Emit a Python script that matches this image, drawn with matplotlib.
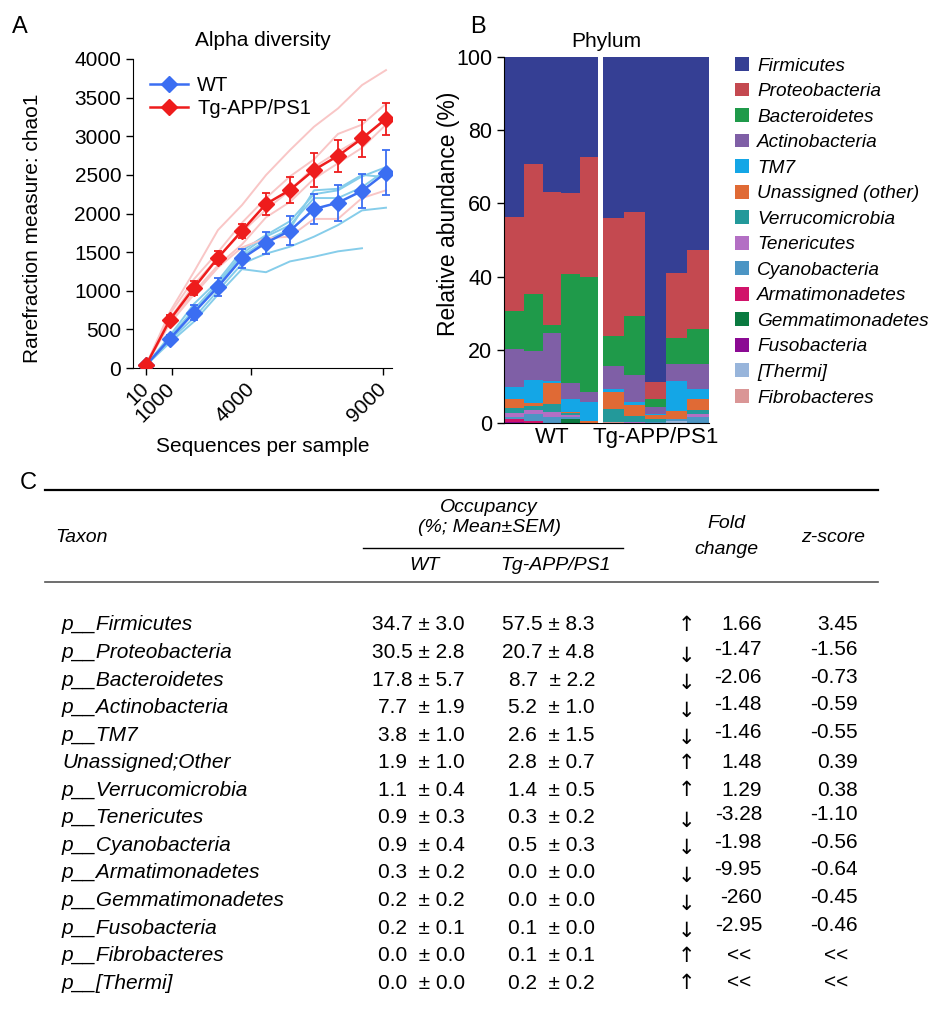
import numpy as np
import matplotlib
matplotlib.use('Agg')
import matplotlib.pyplot as plt
from matplotlib.lines import Line2D

plt.rcParams['font.family'] = ['Liberation Sans', 'DejaVu Sans']

# ---------------- Panel A data ----------------
depths = [10, 919, 1828, 2737, 3646, 4555, 5464, 6373, 7282, 8191, 9100]
depth_ticks = [10, 1000, 4000, 9000]
wt_mean = [35, 380, 718, 1051, 1418, 1622, 1777, 2058, 2140, 2292, 2530]
wt_err = [0, 45, 95, 120, 125, 140, 185, 195, 235, 225, 295]
tg_mean = [35, 627, 1038, 1427, 1777, 2123, 2305, 2564, 2746, 2971, 3226]
tg_err = [0, 55, 90, 85, 90, 145, 165, 215, 205, 240, 205]
wt_samples = [
    [35, 330, 600, 950, 1280, 1240, 1380, 1440, 1510, 1550, np.nan],
    [35, 360, 650, 1000, 1350, 1480, 1570, 1700, 1850, 2040, 2075],
    [35, 390, 740, 1080, 1450, 1650, 1800, 2300, 2320, 2500, 2470],
    [35, 400, 760, 1100, 1480, 1700, 1850, 2200, 2200, 2340, 2560],
    [35, 420, 830, 1130, 1520, 1720, 1900, 2250, 2300, 2480, 2600],
]
tg_samples = [
    [35, 729, 1246, 1786, 2109, 2497, 2821, 3123, 3360, 3662, 3856],
    [35, 700, 1150, 1500, 1880, 2200, 2480, 2700, 3030, 3150, 3420],
    [35, 640, 1080, 1430, 1760, 2050, 2300, 2600, 2800, 2980, 3230],
    [35, 600, 980, 1330, 1600, 1950, 2150, 2450, 2650, 2850, 3150],
    [35, 580, 950, 1300, 1560, 1680, 1700, 1930, 1930, 2200, 2300],
]

# ---------------- Panel B data ----------------
groups = ['WT', 'Tg-APP/PS1']
legend_phyla = ['Firmicutes', 'Proteobacteria', 'Bacteroidetes', 'Actinobacteria', 'TM7',
                'Unassigned (other)', 'Verrucomicrobia', 'Tenericutes', 'Cyanobacteria',
                'Armatimonadetes', 'Gemmatimonadetes', 'Fusobacteria', '[Thermi]', 'Fibrobacteres']
phylum_colors = ['#353F94', '#C44950', '#1F9A4A', '#7F5FA6', '#14A6E6', '#E06A35', '#23999A',
                 '#B36FC4', '#4C95C4', '#D1136A', '#0A7A40', '#8B0A93', '#98B5DB', '#DA9696']
# values per sample: WT1..WT5, Tg1..Tg5
firmicutes = [43.6, 29.3, 36.8, 37.1, 27.3, 44.0, 42.4, 88.8, 59.0, 52.8]
proteobacteria = [25.7, 35.5, 36.5, 22.2, 32.7, 32.2, 28.3, 4.7, 17.6, 21.4]
bacteroidetes = [10.5, 15.6, 2.2, 29.8, 31.4, 8.1, 16.1, 2.1, 7.3, 9.7]
actinobacteria = [10.4, 7.8, 13.0, 4.3, 2.9, 6.3, 7.5, 1.9, 4.5, 6.7]
tm7 = [3.3, 6.3, 0.6, 3.5, 5.2, 0.8, 0.7, 0.3, 8.2, 2.9]
unassigned = [2.4, 0.7, 5.6, 0.4, 0.4, 4.8, 3.0, 1.1, 2.2, 2.9]
verrucomicrobia = [1.4, 1.3, 2.1, 0.4, 0.0, 3.5, 1.6, 0.8, 0.0, 1.1]
tenericutes = [1.0, 1.0, 1.6, 0.7, 0.0, 0.0, 0.4, 0.0, 0.0, 0.9]
cyanobacteria = [0.6, 1.8, 1.6, 0.4, 0.0, 0.0, 0.0, 0.3, 0.5, 1.4]
armatimonadetes = [0.8, 0.7, 0.0, 0.0, 0.0, 0.0, 0.0, 0.0, 0.0, 0.0]
gemmatimonadetes = [0.0, 0.0, 0.0, 1.2, 0.0, 0.0, 0.0, 0.0, 0.0, 0.0]
fusobacteria = [0.3, 0.0, 0.0, 0.0, 0.1, 0.0, 0.0, 0.0, 0.0, 0.2]
thermi = [0.0, 0.0, 0.0, 0.0, 0.0, 0.0, 0.0, 0.0, 0.7, 0.0]
fibrobacteres = [0.0, 0.0, 0.0, 0.0, 0.0, 0.3, 0.0, 0.0, 0.0, 0.0]
phylum_values = [firmicutes, proteobacteria, bacteroidetes, actinobacteria, tm7, unassigned,
                 verrucomicrobia, tenericutes, cyanobacteria, armatimonadetes, gemmatimonadetes,
                 fusobacteria, thermi, fibrobacteres]

# ---------------- Panel C data ----------------
taxa = ['p__Firmicutes', 'p__Proteobacteria', 'p__Bacteroidetes', 'p__Actinobacteria', 'p__TM7',
        'Unassigned;Other', 'p__Verrucomicrobia', 'p__Tenericutes', 'p__Cyanobacteria',
        'p__Armatimonadetes', 'p__Gemmatimonadetes', 'p__Fusobacteria', 'p__Fibrobacteres',
        'p__[Thermi]']
occ_wt_mean = [34.7, 30.5, 17.8, 7.7, 3.8, 1.9, 1.1, 0.9, 0.9, 0.3, 0.2, 0.2, 0.0, 0.0]
occ_wt_sem = [3.0, 2.8, 5.7, 1.9, 1.0, 1.0, 0.4, 0.3, 0.4, 0.2, 0.2, 0.1, 0.0, 0.0]
occ_tg_mean = [57.5, 20.7, 8.7, 5.2, 2.6, 2.8, 1.4, 0.3, 0.5, 0.0, 0.0, 0.1, 0.1, 0.2]
occ_tg_sem = [8.3, 4.8, 2.2, 1.0, 1.5, 0.7, 0.5, 0.2, 0.3, 0.0, 0.0, 0.0, 0.1, 0.2]
direction = ['up', 'down', 'down', 'down', 'down', 'up', 'up', 'down', 'down', 'down', 'down',
             'down', 'up', 'up']
fold_change = ['1.66', '-1.47', '-2.06', '-1.48', '-1.46', '1.48', '1.29', '-3.28', '-1.98',
               '-9.95', '-260', '-2.95', '<<', '<<']
z_score = ['3.45', '-1.56', '-0.73', '-0.59', '-0.55', '0.39', '0.38', '-1.10', '-0.56', '-0.64',
           '-0.45', '-0.46', '<<', '<<']

W, H = 931, 1015
fig = plt.figure(figsize=(W / 100, H / 100), dpi=100)


def fx(px):
    return px / W


def fy(py):
    return 1 - py / H


# ======== Panel A ========
axA = fig.add_axes([fx(133), fy(368), (392 - 133) / W, (368 - 59) / H])
for s in wt_samples:
    axA.plot(depths, s, color='#86CDEA', lw=1.4, zorder=1)
for s in tg_samples:
    axA.plot(depths, s, color='#F9C6C6', lw=1.4, zorder=1)
axA.errorbar(depths, wt_mean, yerr=wt_err, fmt='-D', color='#3B6EF2', ecolor='#3B6EF2',
             lw=1.8, ms=8, capsize=3, elinewidth=1.3, capthick=1.3, zorder=3, label='WT')
axA.errorbar(depths, tg_mean, yerr=tg_err, fmt='-D', color='#EE1C1C', ecolor='#EE1C1C',
             lw=1.8, ms=8, capsize=3, elinewidth=1.3, capthick=1.3, zorder=4, label='Tg-APP/PS1')
axA.set_xlim(-482, 9328)
axA.set_ylim(0, 4000)
axA.set_yticks(np.arange(0, 4001, 500))
axA.set_xticks(depth_ticks)
axA.set_xticklabels([str(t) for t in depth_ticks], rotation=45, ha='right', va='center',
                    rotation_mode='anchor')
axA.tick_params(labelsize=15, length=5, width=1)
axA.tick_params(axis='x', pad=8)
for sp in ['top', 'right']:
    axA.spines[sp].set_visible(False)
axA.set_ylabel('Rarefraction measure: chao1', fontsize=15)
axA.yaxis.set_label_coords(-0.351, 0.453)
axA.set_xlabel('Sequences per sample', fontsize=15)
axA.xaxis.set_label_coords(0.502, -0.223)
axA.set_title('Alpha diversity', fontsize=15, pad=9)
handles = [Line2D([0], [0], color='#3B6EF2', marker='D', ms=8, lw=1.8),
           Line2D([0], [0], color='#EE1C1C', marker='D', ms=8, lw=1.8)]
axA.legend(handles, ['WT', 'Tg-APP/PS1'], loc='upper left', bbox_to_anchor=(fx(150), fy(76)),
           bbox_transform=fig.transFigure, frameon=False, fontsize=14.5, handlelength=1.9,
           handletextpad=0.45, labelspacing=0.22, borderpad=0, borderaxespad=0)
fig.text(fx(12), fy(27), 'A', fontsize=17, va='center', ha='left')

# ======== Panel B ========
axB = fig.add_axes([fx(504), fy(423.3), (708.5 - 504) / W, (423.3 - 56.7) / H])
wt_w, tg_w, gap = 1.0, 1.14, 0.24
x_pos = [0.5 + i * wt_w for i in range(5)] + [5 + gap + tg_w * (i + 0.5) for i in range(5)]
widths = [wt_w] * 5 + [tg_w] * 5
bottom = np.zeros(10)
bar_handles = {}
for name, col, vals in reversed(list(zip(legend_phyla, phylum_colors, phylum_values))):
    v = np.array(vals)
    b = axB.bar(x_pos, v, width=widths, bottom=bottom, color=col, edgecolor='none',
                linewidth=0, label=name)
    bar_handles[name] = b
    bottom += v
axB.axvline(5 + gap / 2, color='white', lw=2.5, zorder=5)
axB.set_xlim(-0.08, 5 + gap + 5 * tg_w)
axB.set_ylim(0, 100)
axB.set_yticks([0, 20, 40, 60, 80, 100])
axB.set_xticks([2.5, 5 + gap + 2.5 * tg_w])
axB.set_xticklabels(groups, fontsize=16)
axB.tick_params(axis='y', labelsize=15.5, length=5, width=1)
axB.tick_params(axis='x', length=0, pad=3)
for sp in ['top', 'right']:
    axB.spines[sp].set_visible(False)
axB.set_ylabel('Relative abundance (%)', fontsize=16.5)
axB.yaxis.set_label_coords(-0.215, 0.571)
axB.set_title('Phylum', fontsize=15, pad=7)
fig.text(fx(470), fy(27), 'B', fontsize=17, va='center', ha='left')
leg_handles = [bar_handles[n] for n in legend_phyla]
axB.legend(leg_handles, legend_phyla, loc='upper left', bbox_to_anchor=(fx(735), fy(57)),
           bbox_transform=fig.transFigure, frameon=False, handlelength=0.74, handleheight=0.74,
           handletextpad=0.42, labelspacing=0.42, borderpad=0, borderaxespad=0,
           prop={'size': 13.7, 'style': 'italic'})

# ======== Panel C (table) ========
axT = fig.add_axes([0, 0, 1, 1], zorder=-1)
axT.set_xlim(0, W)
axT.set_ylim(H, 0)
axT.axis('off')
axT.text(20, 483, 'C', fontsize=17, va='center', ha='left')
axT.plot([45, 878], [490, 490], color='black', lw=1.6)
axT.plot([363, 623], [548, 548], color='black', lw=1.0)
axT.plot([45, 878], [582, 582], color='#555555', lw=1.2)
hdr = dict(fontsize=14, style='italic', va='center')
axT.text(55, 537, 'Taxon', ha='left', **hdr)
axT.text(489, 508, 'Occupancy', ha='center', **hdr)
axT.text(489, 528, '(%; Mean±SEM)', ha='center', **hdr)
axT.text(424, 565, 'WT', ha='center', **hdr)
axT.text(555, 565, 'Tg-APP/PS1', ha='center', **hdr)
axT.text(726, 524, 'Fold', ha='center', **hdr)
axT.text(726, 549, 'change', ha='center', **hdr)
axT.text(833, 537, 'z-score', ha='center', **hdr)


def occ(m, s):
    return f"{m:.1f}{'  ' if m < 10 else ' '}± {s:.1f}"


fs = 15
for i, t in enumerate(taxa):
    y = 625 + i * 27.55
    axT.text(62, y, t, ha='left', va='center', fontsize=fs, style='italic')
    axT.text(465, y, occ(occ_wt_mean[i], occ_wt_sem[i]), ha='right', va='center', fontsize=fs)
    axT.text(595, y, occ(occ_tg_mean[i], occ_tg_sem[i]), ha='right', va='center', fontsize=fs)
    down = direction[i] == 'down'
    arrow = '↓' if down else '↑'
    axT.text(686, y + (3 if down else 0), arrow, ha='center', va='center', fontsize=fs,
             family=['DejaVu Sans'])
    dy = -3 if down else 0
    if fold_change[i] == '<<':
        axT.text(739, y, '<<', ha='center', va='center', fontsize=fs)
        axT.text(836, y, '<<', ha='center', va='center', fontsize=fs)
    else:
        axT.text(762, y + dy, fold_change[i], ha='right', va='center', fontsize=fs)
        axT.text(858, y + dy, z_score[i], ha='right', va='center', fontsize=fs)

fig.savefig('out.png', dpi=100)
